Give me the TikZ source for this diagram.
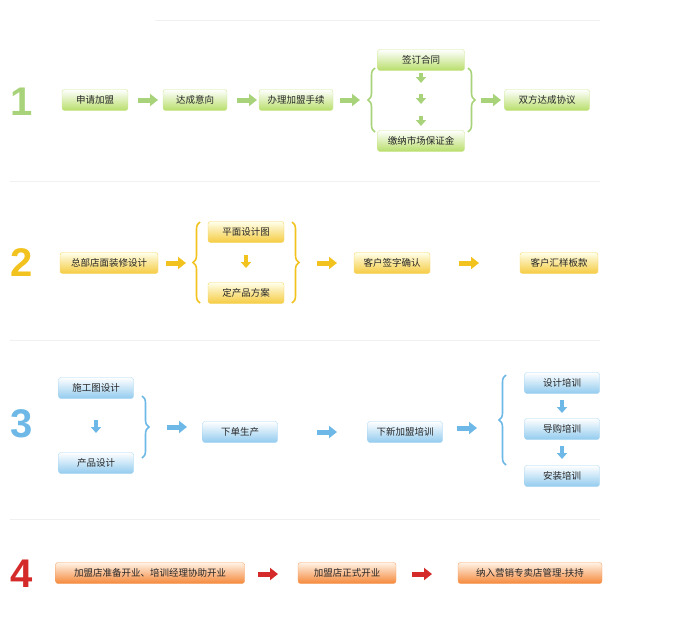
\documentclass[tikz,border=0pt]{standalone}
\usepackage{fontspec}
\setmainfont{Noto Sans CJK SC}
\newfontfamily\numfont{Liberation Sans}
\usetikzlibrary{arrows.meta,decorations.pathreplacing}
\definecolor{gn}{HTML}{A8D37A}\definecolor{gnb}{HTML}{B8DE6A}
\definecolor{yl}{HTML}{F2C21E}\definecolor{ylb}{HTML}{F5CB40}
\definecolor{bl}{HTML}{6DB8E6}\definecolor{blb}{HTML}{92CBEE}
\definecolor{rd}{HTML}{D42A2A}\definecolor{rdb}{HTML}{F5883A}
\tikzset{
 bx/.style={rounded corners=2.5pt,minimum height=21pt,inner sep=2pt,font=\fontsize{9.5}{10}\selectfont,text=black!85},
 g/.style={bx,top color=white,bottom color=gnb,draw=gnb!70},
 yb/.style={bx,top color=yellow!8,bottom color=ylb,draw=ylb!80},
 b/.style={bx,top color=white,bottom color=blb,draw=blb!80},
 r/.style={bx,top color=orange!10,bottom color=rdb,draw=rdb!80},
 arr/.style={line width=5pt,-{Triangle[width=12pt,length=8pt]}},
 darr/.style={line width=4pt,-{Triangle[width=10pt,length=6pt]}},
 br/.style={decorate,decoration={brace,amplitude=7pt},line width=1.6pt},
 num/.style={font=\numfont\bfseries\fontsize{40}{40}\selectfont},
 sep/.style={draw=gray!12,line width=0.8pt}
}
\begin{document}
\begin{tikzpicture}[x=1pt,y=-1pt]
\useasboundingbox (0,0) rectangle (695,619);
\draw[sep] (155,20)--(600,20);
\draw[sep] (10,181)--(600,181);
\draw[sep] (10,340)--(600,340);
\draw[sep] (10,519)--(600,519);
% row 1
\node[num,text=gn] (n1) at (22,102) {1};
\node[g,minimum width=66pt] (a1) at (95,100) {申请加盟};
\node[g,minimum width=64pt] (a2) at (195,100) {达成意向};
\node[g,minimum width=74pt] (a3) at (296,100) {办理加盟手续};
\node[g,minimum width=87pt] (a4) at (421,60) {签订合同};
\node[g,minimum width=87pt] (a5) at (421,141) {缴纳市场保证金};
\node[g,minimum width=85pt] (a6) at (547,100) {双方达成协议};
\draw[arr,gn] (138,100)--(158,100);
\draw[arr,gn] (237,100)--(257,100);
\draw[arr,gn] (340,100)--(360,100);
\draw[arr,gn] (481,100)--(501,100);
\foreach \y in {73,94,116} \draw[darr,gn] (421,\y)--(421,\y+10);
\draw[br,gn] (375,132)--(375,68);
\draw[br,gn] (468,68)--(468,132);
% row 2
\node[num,text=yl] (n2) at (22,263) {2};
\node[yb,minimum width=98pt] (b1) at (109,263) {总部店面装修设计};
\node[yb,minimum width=76pt] (b2) at (246,232) {平面设计图};
\node[yb,minimum width=76pt] (b3) at (246,293) {定产品方案};
\node[yb,minimum width=76pt] (b4) at (392,263) {客户签字确认};
\node[yb,minimum width=78pt] (b5) at (559,263) {客户汇样板款};
\draw[arr,yl] (166,263)--(186,263);
\draw[darr,yl] (246,255)--(246,268);
\draw[arr,yl] (317,263)--(337,263);
\draw[arr,yl] (459,263)--(479,263);
\draw[br,yl] (200,303)--(200,222);
\draw[br,yl] (292,222)--(292,303);
% row 3
\node[num,text=bl] (n3) at (22,424) {3};
\node[b,minimum width=75pt] (c1) at (96,388) {施工图设计};
\node[b,minimum width=75pt] (c2) at (96,463) {产品设计};
\node[b,minimum width=75pt] (c3) at (240,432) {下单生产};
\node[b,minimum width=75pt] (c4) at (405,432) {下新加盟培训};
\node[b,minimum width=75pt] (c5) at (562,383) {设计培训};
\node[b,minimum width=75pt] (c6) at (562,429) {导购培训};
\node[b,minimum width=75pt] (c7) at (562,476) {安装培训};
\draw[darr,bl] (96,420)--(96,433);
\draw[arr,bl] (167,427)--(187,427);
\draw[arr,bl] (317,432)--(337,432);
\draw[arr,bl] (457,428)--(477,428);
\draw[darr,bl] (562,400)--(562,413);
\draw[darr,bl] (562,446)--(562,459);
\draw[br,bl] (142,396)--(142,458);
\draw[br,bl] (506,465)--(506,375);
% row 4
\node[num,text=rd] (n4) at (22,574) {4};
\node[r,minimum width=189pt] (d1) at (150,573) {加盟店准备开业、培训经理协助开业};
\node[r,minimum width=98pt] (d2) at (347,573) {加盟店正式开业};
\node[r,minimum width=144pt] (d3) at (530,573) {纳入营销专卖店管理-扶持};
\draw[arr,rd] (258,574)--(278,574);
\draw[arr,rd] (412,574)--(432,574);
\end{tikzpicture}
\end{document}
